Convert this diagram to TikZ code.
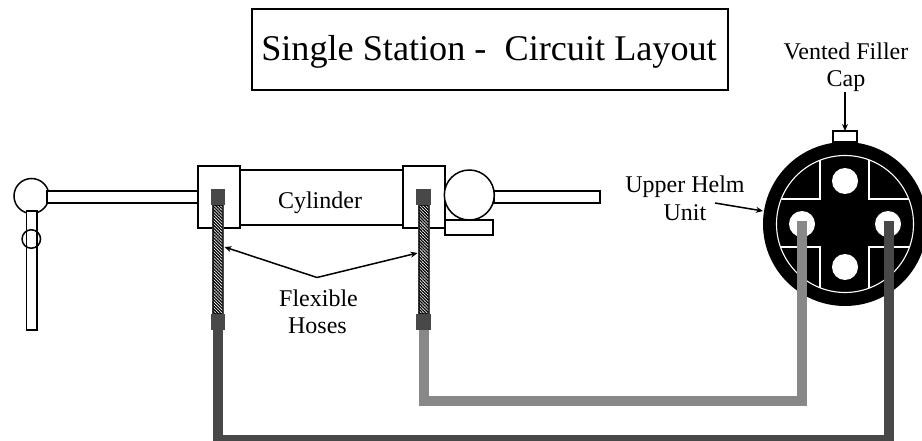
\documentclass[tikz,border=0pt]{standalone}
\usepackage{fontspec}
\setmainfont{Liberation Serif}
\usetikzlibrary{arrows.meta,patterns.meta}
\definecolor{pipedark}{HTML}{484848}
\definecolor{pipelight}{HTML}{888888}
\tikzset{
  part/.style={draw=black,line width=1.6pt,fill=white,inner sep=0pt,outer sep=0pt},
  ring/.style={draw=black,line width=1.5pt,circle,inner sep=0pt,outer sep=0pt},
  hose/.style={draw=pipedark,line width=2pt,inner sep=0pt,outer sep=0pt,minimum width=10pt,minimum height=110pt,fill=white,
     postaction={pattern={Lines[angle=-45,distance=2.2pt,line width=1.3pt]},pattern color=black}},
  fitting/.style={fill=pipedark,inner sep=0pt,outer sep=0pt,minimum width=14.5pt,minimum height=16pt},
  pipe/.style={line width=10pt,line join=miter,line cap=butt},
  lead/.style={line width=1.5pt,-{Stealth[length=7pt,width=6pt]}},
  label/.style={inner sep=0pt,outer sep=0pt,anchor=base,font=\fontsize{24pt}{28pt}\selectfont},
  hole/.style={fill=white,circle,inner sep=0pt,outer sep=0pt,minimum size=26pt},
  seam/.style={draw=white,line width=1.1pt}
}
\begin{document}
\begin{tikzpicture}[x=1pt,y=-1pt]
\useasboundingbox (0,0) rectangle (922,441);
\begin{scope}
\clip (0,0) rectangle (922,441);
% title
\node[draw=black,line width=1.5pt,inner sep=0pt,minimum width=476pt,minimum height=81pt] (titlebox) at (490,49.5) {};
\node[label,font=\fontsize{36.2pt}{42pt}\selectfont] (title) at (489,61) {Single Station -\ \ Circuit Layout};
% helm unit
\node[fill=black,circle,inner sep=0pt,outer sep=0pt,minimum size=164pt] (helm) at (845,224) {};
\node[part,minimum width=24pt,minimum height=11pt] (cap) at (845,136.5) {};
\begin{scope}
\clip (845,224) circle (68.5);
\draw[seam] (820,150) -- (820,199) -- (770,199);
\draw[seam] (869,150) -- (869,199) -- (920,199);
\draw[seam] (820,300) -- (820,247) -- (770,247);
\draw[seam] (869,300) -- (869,247) -- (920,247);
\end{scope}
\draw[seam] (845,224) circle (68.5);
\node[hole] (holeT) at (845,181) {};
\node[hole] (holeB) at (845,267) {};
\node[hole] (holeL) at (802,224) {};
\node[hole] (holeR) at (888,224) {};
% left lever
\node[ring,minimum size=35pt] (ball) at (31.5,196) {};
\node[part,minimum width=10.5pt,minimum height=119pt] (handle) at (31.7,270.5) {};
\node[ring,minimum size=18.5pt] (collar) at (31.3,239) {};
\node[part,minimum width=151pt,minimum height=12pt] (rodL) at (122.5,197) {};
% cylinder
\node[part,minimum width=163pt,minimum height=55pt] (cyl) at (321.5,197.5) {};
\node[part,minimum width=42pt,minimum height=62pt] (endL) at (219,197) {};
\node[part,minimum width=42pt,minimum height=62pt] (endR) at (424,197) {};
% right rod
\node[part,minimum width=105.5pt,minimum height=12pt] (rodR) at (547,197) {};
\node[ring,fill=white,minimum size=50pt] (ballR) at (469.3,195) {};
\node[part,minimum width=48pt,minimum height=15pt] (mount) at (469,227.5) {};
% pipes
\coordinate (portL) at (802,221);
\coordinate (portR) at (888.7,221);
\node[fitting] (fitLT) at (218,197) {};
\node[fitting] (fitLB) at (218,322) {};
\node[fitting] (fitRT) at (423.5,197) {};
\node[fitting] (fitRB) at (423.5,322) {};
\draw[pipe,pipedark] (fitLB.south) -- ++(0,109.5) -| (portR);
\draw[pipe,pipelight] (fitRB.south) -- ++(0,71) -| (portL);
% hoses
\node[hose,minimum height=109pt] (hoseL) at (217.7,259.5) {};
\node[hose,minimum height=109pt] (hoseR) at (423.5,259.5) {};
\node[fitting] at (fitLT) {};
\node[fitting] at (fitLB) {};
\node[fitting] at (fitRT) {};
\node[fitting] at (fitRB) {};
% labels
\node[label] (lcyl) at (320,208) {Cylinder};
\node[label] (lflex) at (318.5,306) {Flexible};
\node[label] (lhoses) at (317.5,333) {Hoses};
\node[label] (lvent) at (846,60) {Vented Filler};
\node[label] (lcap) at (846,87) {Cap};
\node[label] (lupper) at (685,193) {Upper Helm};
\node[label] (lunit) at (685,221) {Unit};
% leaders
\coordinate (fork) at (317,277.5);
\coordinate (capstart) at (845,92);
\coordinate (helmstart) at (715,203);
\draw[lead] (fork) -- (224.5,247);
\draw[lead] (fork) -- (417.5,253);
\draw[lead] (capstart) -- (cap.north);
\draw[lead] (helmstart) -- (763,211);
\end{scope}
\end{tikzpicture}
\end{document}
